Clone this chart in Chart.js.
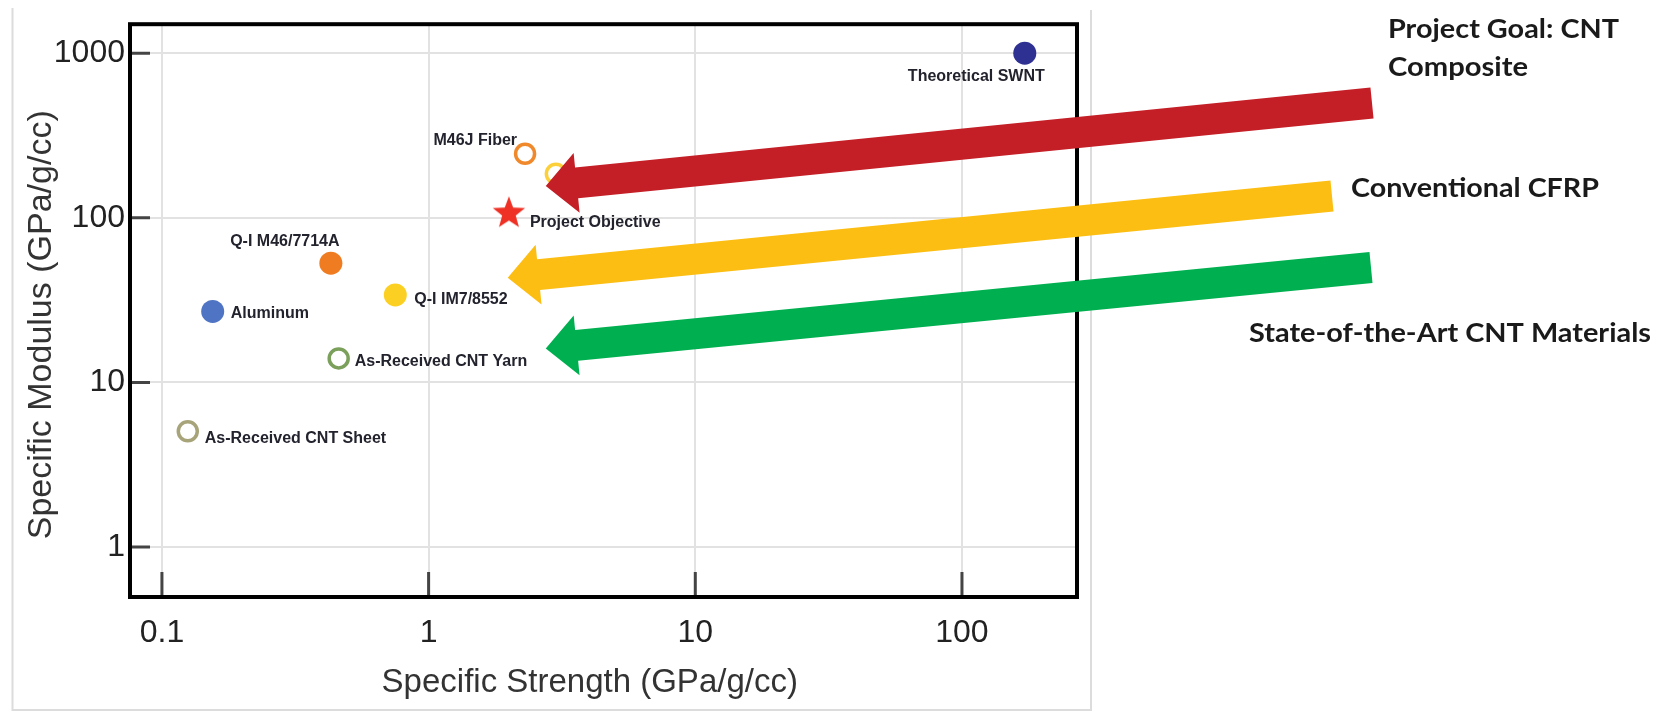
<!DOCTYPE html>
<html>
<head>
<meta charset="utf-8">
<title>Specific Modulus vs Specific Strength</title>
<script src="https://cdn.jsdelivr.net/npm/chart.js@4.4.1/dist/chart.umd.min.js"></script>
<style>
  html, body { margin: 0; padding: 0; background: #fff; }
  #wrap { width: 1665px; height: 713px; position: relative; }
</style>
</head>
<body>
<div id="wrap"><canvas id="myChart"></canvas></div>
<script>
// values, GPa/g/cc
const materials = ['Theoretical SWNT', 'M46J Fiber', '', 'Project Objective', 'Q-I M46/7714A',
                   'Q-I IM7/8552', 'Aluminum', 'As-Received CNT Yarn', 'As-Received CNT Sheet'];
const strength = [172, 2.3, 3.0, 2.0, 0.43, 0.75, 0.155, 0.46, 0.125];
const modulus = [1000, 245, 185, 108, 53, 34, 27, 14, 5.05];

const xTicks = [0.1, 1, 10, 100];
const yTicks = [1, 10, 100, 1000];

const calloutText = [['Project Goal: CNT', 'Composite'], ['Conventional CFRP'], ['State-of-the-Art CNT Materials']];

// styles
const pointColors = ['#2e3192', '#f0892c', '#fcd03a', '#ee3124', '#f07c22', '#fcd023', '#4f74c4', '#7ba05b', '#a8a47a'];
const hollow = [false, true, true, false, false, false, false, true, true];
const starIndex = 3;

// label offsets from the marker: dx, dy, align
const labelPos = [
    [20, 23, 'right'], [-8, -13, 'right'], null, [21, 10, 'left'], [-46, -22, 'center'],
    [19, 5, 'left'], [18, 2, 'left'], [16, 3, 'left'], [17, 7, 'left']
];

// arrows: tip in data units, tail in canvas pixels
const arrows = [
    { color: '#c41e26', tip: [2.75, 156], tail: [1372, 103] },
    { color: '#fdbe13', tip: [1.98, 43.3], tail: [1332, 196] },
    { color: '#00b050', tip: [2.75, 16.1], tail: [1371, 267.5] }
];

const calloutLayout = [
    { x: 1388, y: [38, 76], w: [231, 140] },
    { x: 1351, y: [197], w: [248] },
    { x: 1249, y: [342], w: [402] }
];

Chart.defaults.font.family = '"Liberation Sans", Arial, sans-serif';

function makeStar(r, color) {
    const c = document.createElement('canvas');
    const size = Math.ceil(r * 2 + 2);
    c.width = c.height = size;
    const g = c.getContext('2d');
    g.fillStyle = color;
    g.beginPath();
    for (let i = 0; i < 10; i++) {
        const rad = i % 2 === 0 ? r : r * 0.42;
        const ang = -Math.PI / 2 + i * Math.PI / 5;
        g.lineTo(size / 2 + rad * Math.cos(ang), size / 2 + rad * Math.sin(ang) + 1);
    }
    g.closePath();
    g.fill();
    return c;
}

const star = makeStar(17, pointColors[starIndex]);

function drawArrow(ctx, p, t, color) {
    const dx = t[0] - p[0], dy = t[1] - p[1];
    const len = Math.hypot(dx, dy);
    const ux = dx / len, uy = dy / len;
    const nx = -uy, ny = ux;
    const hl = 31, hw = 30, sw = 15.5;
    const bx = p[0] + ux * hl, by = p[1] + uy * hl;
    ctx.fillStyle = color;
    ctx.beginPath();
    ctx.moveTo(p[0], p[1]);
    ctx.lineTo(bx + nx * hw, by + ny * hw);
    ctx.lineTo(bx + nx * sw, by + ny * sw);
    ctx.lineTo(t[0] + nx * sw, t[1] + ny * sw);
    ctx.lineTo(t[0] - nx * sw, t[1] - ny * sw);
    ctx.lineTo(bx - nx * sw, by - ny * sw);
    ctx.lineTo(bx - nx * hw, by - ny * hw);
    ctx.closePath();
    ctx.fill();
}

const decor = {
    id: 'decor',
    beforeDraw(chart) {
        const ctx = chart.ctx;
        ctx.save();
        ctx.fillStyle = '#fff';
        ctx.fillRect(0, 0, chart.width, chart.height);
        ctx.strokeStyle = '#dcdcdc';
        ctx.lineWidth = 2;
        ctx.beginPath();
        ctx.moveTo(12.5, 8);
        ctx.lineTo(12.5, 710);
        ctx.lineTo(1091, 710);
        ctx.lineTo(1091, 10);
        ctx.stroke();
        ctx.restore();
    },
    beforeDatasetsDraw(chart) {
        const { ctx, chartArea: a, scales } = chart;
        ctx.save();
        ctx.strokeStyle = '#444';
        ctx.lineWidth = 3;
        ctx.beginPath();
        xTicks.forEach(v => {
            const px = scales.x.getPixelForValue(v);
            ctx.moveTo(px, a.bottom);
            ctx.lineTo(px, a.bottom - 25);
        });
        yTicks.forEach(v => {
            const py = scales.y.getPixelForValue(v);
            ctx.moveTo(a.left, py);
            ctx.lineTo(a.left + 20, py);
        });
        ctx.stroke();
        ctx.strokeStyle = '#000';
        ctx.lineWidth = 4;
        ctx.strokeRect(a.left, a.top, a.right - a.left, a.bottom - a.top);
        ctx.restore();
    },
    afterDatasetsDraw(chart) {
        const ctx = chart.ctx;
        const meta = chart.getDatasetMeta(0);
        ctx.save();
        ctx.font = 'bold 16px "Liberation Sans", Arial, sans-serif';
        ctx.fillStyle = '#23232e';
        ctx.textBaseline = 'middle';
        materials.forEach((name, i) => {
            const lp = labelPos[i];
            if (!name || !lp) return;
            const pt = meta.data[i];
            ctx.textAlign = lp[2];
            ctx.fillText(name, pt.x + lp[0], pt.y + lp[1]);
        });
        ctx.restore();
    },
    afterDraw(chart) {
        const { ctx, scales } = chart;
        ctx.save();
        arrows.forEach(ar => {
            const tip = [scales.x.getPixelForValue(ar.tip[0]), scales.y.getPixelForValue(ar.tip[1])];
            drawArrow(ctx, tip, ar.tail, ar.color);
        });
        ctx.fillStyle = '#1a1a1a';
        ctx.textBaseline = 'alphabetic';
        ctx.textAlign = 'left';
        ctx.font = 'bold 27px Lato, "Open Sans", sans-serif';
        calloutText.forEach((lines, i) => {
            const lay = calloutLayout[i];
            lines.forEach((line, j) => {
                const w = ctx.measureText(line).width;
                const sx = lay.w[j] / w;
                ctx.save();
                ctx.translate(lay.x, lay.y[j]);
                ctx.scale(sx, 1);
                ctx.fillText(line, 0, 0);
                ctx.restore();
            });
        });
        ctx.restore();
    }
};

const ctx = document.getElementById('myChart').getContext('2d');
const chart = new Chart(ctx, {
    type: 'scatter',
    data: {
        datasets: [{
            label: 'Materials',
            data: strength.map((x, i) => ({ x: x, y: modulus[i] })),
            pointStyle: materials.map((m, i) => i === starIndex ? star : 'circle'),
            pointRadius: hollow.map((h, i) => i === starIndex ? 17 : (h ? 9.5 : 11.5)),
            borderWidth: hollow.map(h => h ? 3.5 : 0),
            borderColor: pointColors,
            backgroundColor: pointColors.map((c, i) => hollow[i] ? 'rgba(255,255,255,0)' : c),
            clip: false
        }]
    },
    options: {
        responsive: true,
        maintainAspectRatio: false,
        animation: false,
        events: [],
        layout: { padding: { top: 23, right: 588, left: 0, bottom: 0 } },
        plugins: { legend: { display: false }, tooltip: { enabled: false } },
        scales: {
            x: {
                type: 'logarithmic',
                position: 'bottom',
                min: 0.0759,
                max: 270,
                afterBuildTicks: s => { s.ticks = xTicks.map(v => ({ value: v })); },
                afterFit: s => { s.height = 116; },
                ticks: {
                    callback: v => String(v),
                    autoSkip: false,
                    maxRotation: 0,
                    color: '#222',
                    padding: 17,
                    font: { size: 32 }
                },
                grid: { color: '#e2e2e2', lineWidth: 2, drawTicks: false },
                border: { display: false },
                title: {
                    display: true,
                    // trailing spaces nudge the centred title left, as in the source figure
                    text: 'Specific Strength (GPa/g/cc)   ',
                    color: '#333',
                    font: { size: 33 },
                    padding: { top: 0, bottom: 10 }
                }
            },
            y: {
                type: 'logarithmic',
                min: 0.4977,
                max: 1499,
                afterBuildTicks: s => { s.ticks = yTicks.map(v => ({ value: v })); },
                afterFit: s => { s.width = 130; },
                ticks: {
                    callback: v => String(v),
                    autoSkip: false,
                    color: '#222',
                    padding: 5,
                    font: { size: 32 }
                },
                grid: { color: '#e2e2e2', lineWidth: 2, drawTicks: false },
                border: { display: false },
                title: {
                    display: true,
                    text: 'Specific Modulus (GPa/g/cc)   ',
                    color: '#333',
                    font: { size: 34 },
                    padding: { top: 21, bottom: 0 }
                }
            }
        }
    },
    plugins: [decor]
});
</script>
</body>
</html>
